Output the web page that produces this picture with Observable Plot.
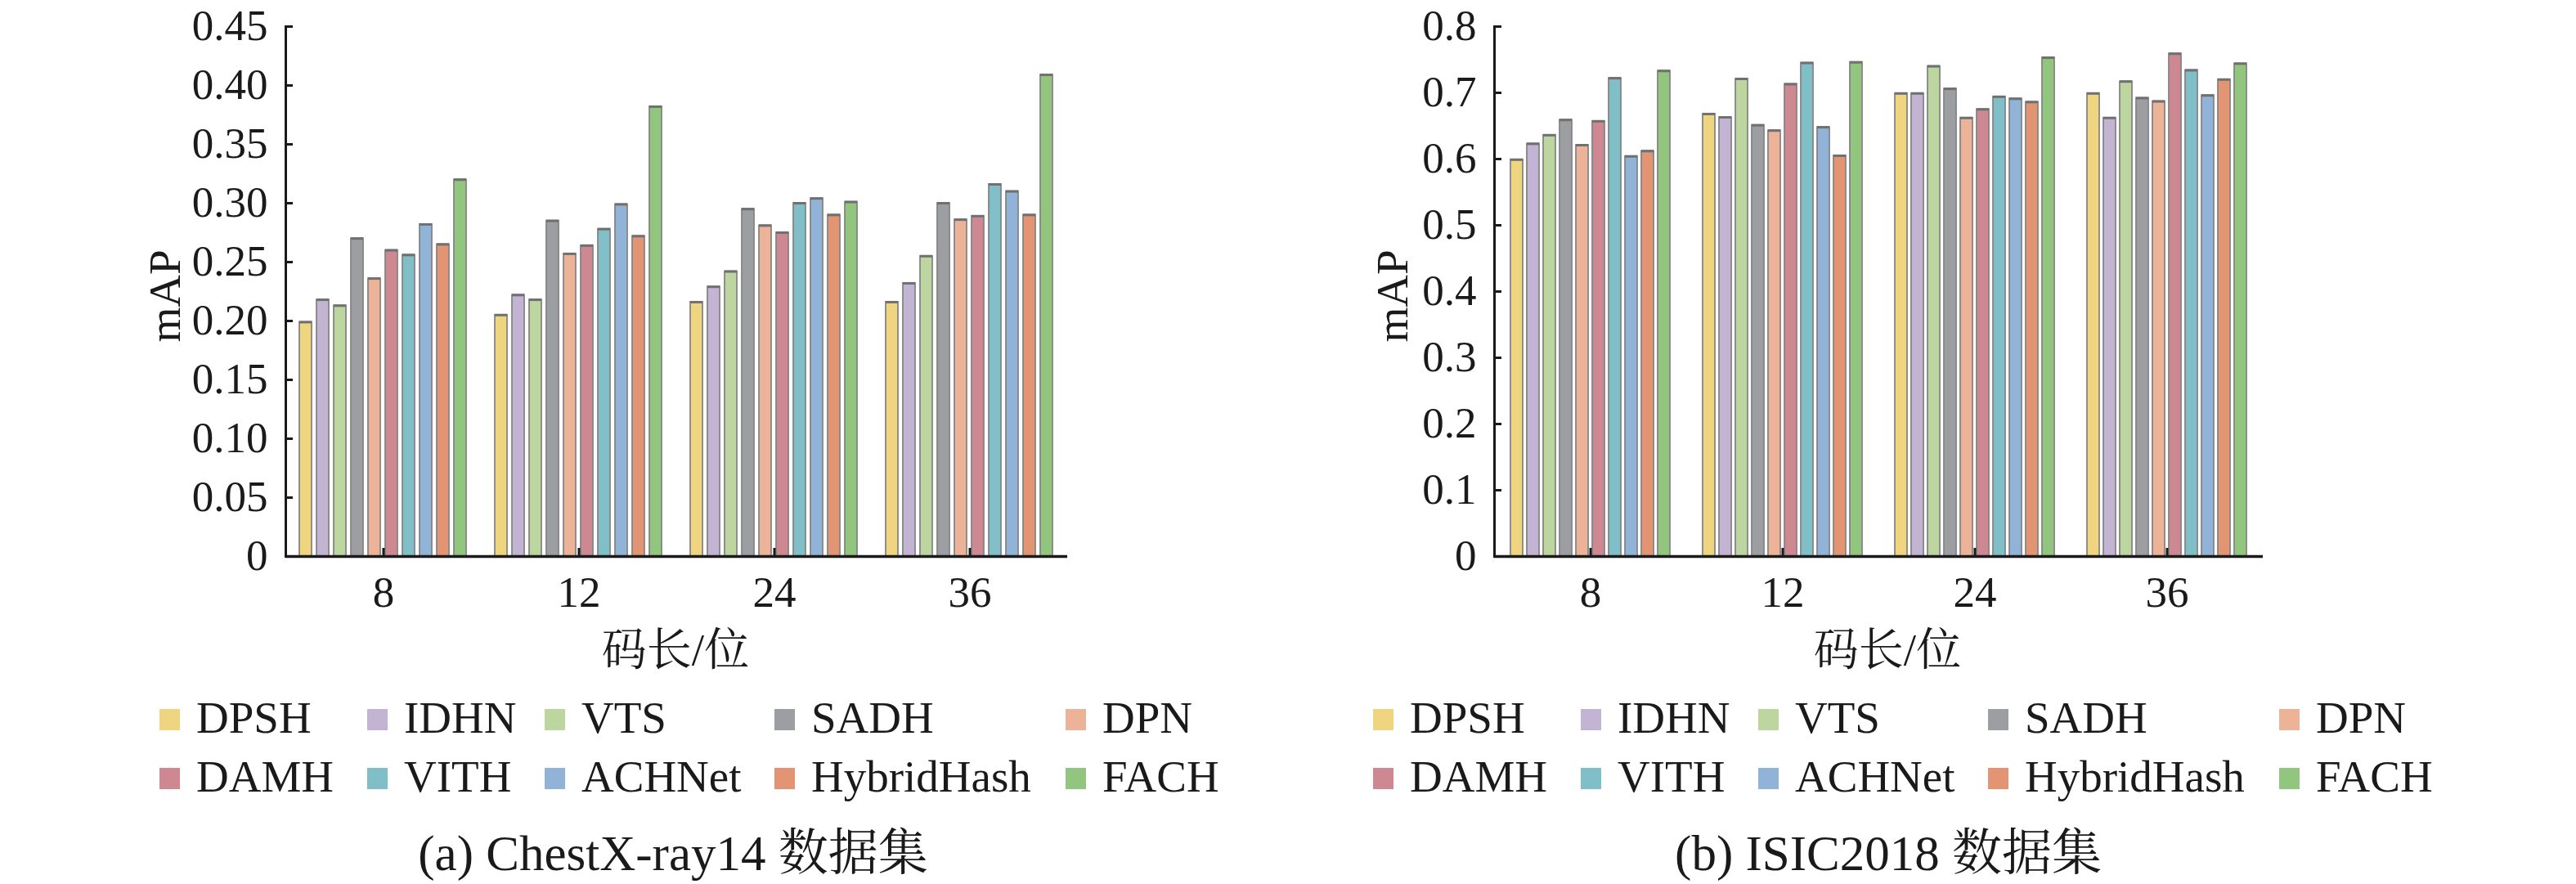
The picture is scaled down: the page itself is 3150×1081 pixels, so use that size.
<!DOCTYPE html>
<html>
<head>
<meta charset="utf-8">
<script src="https://cdn.jsdelivr.net/npm/d3@7"></script>
<script src="https://cdn.jsdelivr.net/npm/@observablehq/plot@0.6"></script>
<style>
html, body { margin: 0; padding: 0; background: #fff; }
#root { position: relative; width: 3150px; height: 1081px; overflow: hidden;
  font-family: "Liberation Serif", "Times New Roman", "Noto Serif CJK SC", "Noto Sans CJK SC", serif; color: #1a1a1a; }
.abs { position: absolute; white-space: nowrap; line-height: 1; }
.c { transform: translate(-50%, -50%); }
.rot { transform: translate(-50%, -50%) rotate(-90deg); }
.plot { position: absolute; top: 0; }
.sw { position: absolute; width: 25px; height: 26px; }
</style>
</head>
<body>
<div id="root"></div>
<script>
// ---------- data ----------
const methods = ["DPSH", "IDHN", "VTS", "SADH", "DPN", "DAMH", "VITH", "ACHNet", "HybridHash", "FACH"];
const colors = ["#EFD57F", "#C3B4D4", "#BDD59E", "#9D9EA2", "#EDB398", "#CE8891", "#80BEC8", "#90B3D7", "#E39573", "#92C57D"];
const codeLengths = ["8", "12", "24", "36"];

// (a) ChestX-ray14
const chest8  = [0.199, 0.218, 0.213, 0.270, 0.236, 0.260, 0.256, 0.282, 0.265, 0.320];
const chest12 = [0.205, 0.222, 0.218, 0.285, 0.257, 0.264, 0.278, 0.299, 0.272, 0.382];
const chest24 = [0.216, 0.229, 0.242, 0.295, 0.281, 0.275, 0.300, 0.304, 0.290, 0.301];
const chest36 = [0.216, 0.232, 0.255, 0.300, 0.286, 0.289, 0.316, 0.310, 0.290, 0.409];

// (b) ISIC2018
const isic8  = [0.599, 0.623, 0.636, 0.659, 0.621, 0.657, 0.722, 0.604, 0.612, 0.733];
const isic12 = [0.668, 0.663, 0.721, 0.651, 0.643, 0.713, 0.745, 0.648, 0.605, 0.746];
const isic24 = [0.699, 0.699, 0.740, 0.706, 0.662, 0.675, 0.694, 0.691, 0.686, 0.753];
const isic36 = [0.699, 0.662, 0.717, 0.692, 0.687, 0.759, 0.734, 0.696, 0.720, 0.744];

const chestTicks = [0, 0.05, 0.10, 0.15, 0.20, 0.25, 0.30, 0.35, 0.40, 0.45];
const isicTicks = [0, 0.1, 0.2, 0.3, 0.4, 0.5, 0.6, 0.7, 0.8];

const yLabel = "mAP";
const xLabel = "码长/位";
const captionA = "(a) ChestX-ray14 数据集";
const captionB = "(b) ISIC2018 数据集";

// ---------- helpers ----------
function rows(groups) {
  return codeLengths.flatMap((g, gi) => methods.map((m, mi) => ({group: g, method: m, value: groups[gi][mi]})));
}
const FONT = '"Liberation Serif", "Times New Roman", "Noto Serif CJK SC", "Noto Sans CJK SC", serif';
const INK = "#1a1a1a";

function chart(cfg) {
  const {data, yDomain, yTicks, fmt, marginLeft, marginRight, pIn, pOut} = cfg;
  const W = 1575, H = 770, mT = 32, mB = 90;
  const base = [
    Plot.barY(data, {fx: "group", x: "method", y: "value", fill: "method", stroke: "#858585", strokeWidth: 1.8}),
    Plot.tickY(data, {fx: "group", x: "method", y: "value", stroke: "#707070", strokeWidth: 3}),
    Plot.ruleY([0], {stroke: INK, strokeWidth: 3.5}),
    Plot.axisY({ticks: yTicks, tickFormat: fmt, tickSize: -9, tickPadding: 31, strokeWidth: 3, stroke: INK, fill: INK, fontSize: 53, label: null}),
    Plot.axisFx({anchor: "bottom", tickSize: -10, tickPadding: 34, strokeWidth: 3, stroke: INK, fill: INK, fontSize: 53, label: null})
  ];
  const opts = (extra) => ({
    width: W, height: H, marginTop: mT, marginBottom: mB, marginLeft, marginRight,
    style: {fontFamily: FONT, fontSize: "53px", color: INK, background: "transparent", overflow: "visible"},
    fx: {domain: codeLengths, padding: 0, label: null},
    x: {domain: methods, axis: null, paddingInner: pIn, paddingOuter: pOut},
    y: {domain: yDomain, label: null},
    color: {domain: methods, range: colors},
    marks: [...base, ...extra]
  });
  try {
    return Plot.plot(opts([Plot.frame({anchor: "left", facet: "super", stroke: INK, strokeWidth: 3})]));
  } catch (e) {
    const fw = (W - marginLeft - marginRight) / codeLengths.length;
    const step = fw / (methods.length - pIn + 2 * pOut);
    const off = step * pOut + step * (1 - pIn) / 2;
    return Plot.plot(opts([Plot.ruleX([{group: codeLengths[0], method: methods[0]}],
      {fx: "group", x: "method", dx: -off, stroke: INK, strokeWidth: 3})]));
  }
}

function addText(root, text, x, y, size, cls) {
  const d = document.createElement("div");
  d.className = "abs " + cls;
  d.style.left = x + "px"; d.style.top = y + "px"; d.style.fontSize = size + "px";
  d.textContent = text;
  root.appendChild(d);
}

function addLegend(root, colX, rowY) {
  methods.forEach((m, i) => {
    const r = Math.floor(i / 5), c = i % 5;
    const s = document.createElement("div");
    s.className = "sw";
    s.style.left = colX[c] + "px"; s.style.top = (rowY[r] - 13) + "px";
    s.style.background = colors[i];
    root.appendChild(s);
    const t = document.createElement("div");
    t.className = "abs";
    t.style.left = (colX[c] + 45) + "px"; t.style.top = (rowY[r] - 3) + "px";
    t.style.fontSize = "55px"; t.style.transform = "translateY(-50%)";
    t.textContent = m;
    root.appendChild(t);
  });
}

// ---------- build ----------
const root = document.getElementById("root");
const fmtA = d => d === 0 ? "0" : d.toFixed(2);
const fmtB = d => d === 0 ? "0" : d.toFixed(1);

const left = chart({data: rows([chest8, chest12, chest24, chest36]), yDomain: [0, 0.45], yTicks: chestTicks, fmt: fmtA,
  marginLeft: 348, marginRight: 270, pIn: 0.28, pOut: 0.75});
left.classList.add("plot"); left.style.left = "0px";
root.appendChild(left);

const right = chart({data: rows([isic8, isic12, isic24, isic36]), yDomain: [0, 0.8], yTicks: isicTicks, fmt: fmtB,
  marginLeft: 251, marginRight: 383, pIn: 0.27, pOut: 0.92});
right.classList.add("plot"); right.style.left = "1575px";
root.appendChild(right);

addText(root, yLabel, 201, 362, 55, "rot");
addText(root, yLabel, 1702, 362, 55, "rot");
addText(root, xLabel, 826, 794, 55, "c");
addText(root, xLabel, 2308, 794, 55, "c");
addLegend(root, [195, 449, 666, 947, 1303], [880, 952]);
addLegend(root, [1679, 1933, 2150, 2431, 2787], [880, 952]);
addText(root, captionA, 823, 1043, 61, "c");
addText(root, captionB, 2309, 1043, 61, "c");
</script>
</body>
</html>
